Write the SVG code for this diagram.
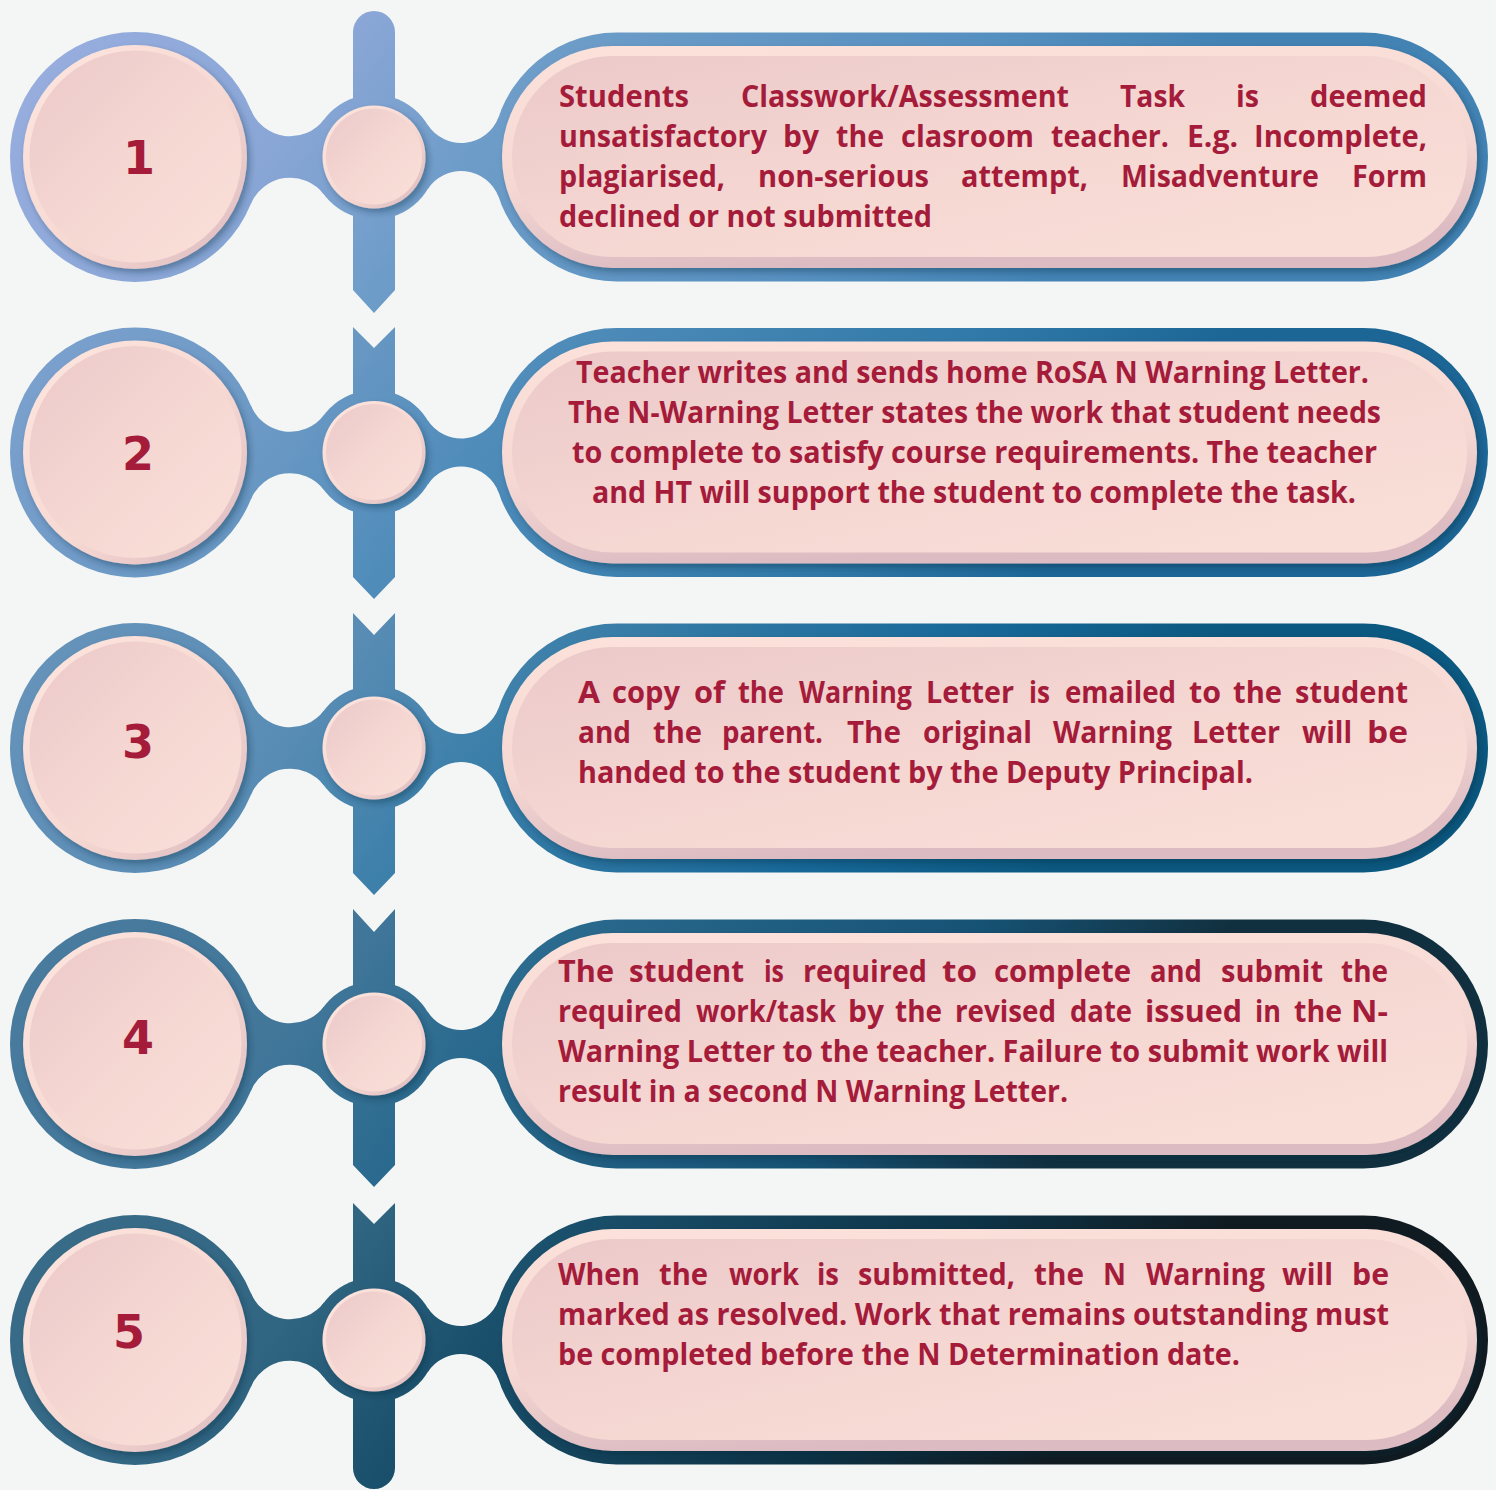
<svg xmlns="http://www.w3.org/2000/svg" width="1496" height="1490" viewBox="0 0 1496 1490">
<defs>
<style>
.t{font-family:"Open Sans","Liberation Sans",sans-serif;font-weight:700;font-size:30px;fill:#a51c3b}
.n{font-family:"DejaVu Sans","Liberation Sans",sans-serif;font-weight:bold;font-size:46px;fill:#a51c3b;text-anchor:middle}
.rim{fill:url(#pinkRim);filter:url(#sh)}
.face{fill:url(#pinkFace)}
.prim{fill:url(#pillRim);filter:url(#sh)}
</style>
<filter id="sh" x="-10%" y="-10%" width="125%" height="130%">
<feDropShadow dx="3" dy="4" stdDeviation="3" flood-color="#08263a" flood-opacity="0.35"/>
</filter>
<linearGradient id="pinkRim" x1="0" y1="0" x2="1" y2="1">
<stop offset="0" stop-color="#fde6df"/><stop offset="0.55" stop-color="#f7d9d3"/><stop offset="1" stop-color="#d9b8be"/>
</linearGradient>
<linearGradient id="pillRim" x1="0" y1="0" x2="0.25" y2="1">
<stop offset="0" stop-color="#fce2db"/><stop offset="0.6" stop-color="#f6d8d3"/><stop offset="1" stop-color="#dcbcc2"/>
</linearGradient>
<linearGradient id="pinkFace" x1="0" y1="0" x2="1" y2="1">
<stop offset="0" stop-color="#ebc9c9"/><stop offset="0.55" stop-color="#f6d8d3"/><stop offset="1" stop-color="#fadfd8"/>
</linearGradient>
<linearGradient id="g1" gradientUnits="userSpaceOnUse" x1="0" y1="-146" x2="800" y2="454">
<stop offset="0" stop-color="#9aafe0"/><stop offset="0.3" stop-color="#89a6d6"/><stop offset="0.47" stop-color="#6d9cc8"/><stop offset="0.8" stop-color="#5690c0"/><stop offset="1" stop-color="#4283b4"/>
</linearGradient>
<linearGradient id="g2" gradientUnits="userSpaceOnUse" x1="0" y1="-146" x2="800" y2="454">
<stop offset="0" stop-color="#7fa2cf"/><stop offset="0.3" stop-color="#6a98c4"/><stop offset="0.47" stop-color="#4f8cba"/><stop offset="0.8" stop-color="#3079a8"/><stop offset="1" stop-color="#1c6696"/>
</linearGradient>
<linearGradient id="g3" gradientUnits="userSpaceOnUse" x1="0" y1="-146" x2="800" y2="454">
<stop offset="0" stop-color="#6894bb"/><stop offset="0.3" stop-color="#5a8db5"/><stop offset="0.47" stop-color="#3d80aa"/><stop offset="0.8" stop-color="#176898"/><stop offset="1" stop-color="#0b5880"/>
</linearGradient>
<linearGradient id="g4" gradientUnits="userSpaceOnUse" x1="0" y1="-146" x2="800" y2="454">
<stop offset="0" stop-color="#4a7c9f"/><stop offset="0.3" stop-color="#42779a"/><stop offset="0.47" stop-color="#2a6a8e"/><stop offset="0.8" stop-color="#165274"/><stop offset="1" stop-color="#11303f"/>
</linearGradient>
<linearGradient id="g5" gradientUnits="userSpaceOnUse" x1="0" y1="-146" x2="800" y2="454">
<stop offset="0" stop-color="#3b6d89"/><stop offset="0.3" stop-color="#316683"/><stop offset="0.47" stop-color="#1a506c"/><stop offset="0.8" stop-color="#0d3346"/><stop offset="1" stop-color="#101b21"/>
</linearGradient>
</defs>
<rect width="1496" height="1490" fill="#f4f6f5"/>

<g id="connectors">
<g transform="translate(0,157)" fill="url(#g1)">
<path d="M353,-125 A21,21 0 0 1 395,-125 L395,133 L374,156 L353,133 Z"/>
<path d="M250.7,-47.4 A42.5,42.5 0 0 0 324,-37.5 L324,37.5 A42.5,42.5 0 0 0 250.7,47.4 Z"/>
<path d="M427.5,-32.5 A40,40 0 0 0 498.7,-40.3 L498.7,40.3 A40,40 0 0 0 427.5,32.5 Z"/>
</g>
<g transform="translate(0,452.5)" fill="url(#g2)">
<path d="M353,-125.5 L374,-104.5 L395,-125.5 L395,124.5 L374,146.5 L353,124.5 Z"/>
<path d="M250.7,-47.4 A42.5,42.5 0 0 0 324,-37.5 L324,37.5 A42.5,42.5 0 0 0 250.7,47.4 Z"/>
<path d="M427.5,-32.5 A40,40 0 0 0 498.7,-40.3 L498.7,40.3 A40,40 0 0 0 427.5,32.5 Z"/>
</g>
<g transform="translate(0,748)" fill="url(#g3)">
<path d="M353,-135 L374,-113 L395,-135 L395,125 L374,147 L353,125 Z"/>
<path d="M250.7,-47.4 A42.5,42.5 0 0 0 324,-37.5 L324,37.5 A42.5,42.5 0 0 0 250.7,47.4 Z"/>
<path d="M427.5,-32.5 A40,40 0 0 0 498.7,-40.3 L498.7,40.3 A40,40 0 0 0 427.5,32.5 Z"/>
</g>
<g transform="translate(0,1044)" fill="url(#g4)">
<path d="M353,-135 L374,-112 L395,-135 L395,121 L374,143 L353,121 Z"/>
<path d="M250.7,-47.4 A42.5,42.5 0 0 0 324,-37.5 L324,37.5 A42.5,42.5 0 0 0 250.7,47.4 Z"/>
<path d="M427.5,-32.5 A40,40 0 0 0 498.7,-40.3 L498.7,40.3 A40,40 0 0 0 427.5,32.5 Z"/>
</g>
<g transform="translate(0,1340)" fill="url(#g5)">
<path d="M353,-137 L374,-116 L395,-137 L395,128 A21,21 0 0 1 353,128 Z"/>
<path d="M250.7,-47.4 A42.5,42.5 0 0 0 324,-37.5 L324,37.5 A42.5,42.5 0 0 0 250.7,47.4 Z"/>
<path d="M427.5,-32.5 A40,40 0 0 0 498.7,-40.3 L498.7,40.3 A40,40 0 0 0 427.5,32.5 Z"/>
</g>
</g>

<!-- Step 1 -->
<g id="step-1-number" transform="translate(0,157)">
<circle cx="135" cy="0" r="125" fill="url(#g1)"/>
<circle class="rim" cx="135" cy="0" r="112"/>
<circle class="face" cx="135.5" cy="-0.5" r="106"/>
<text class="n" x="139" y="17">1</text>
</g>
<g id="step-1-hub" transform="translate(0,157)">
<circle cx="374" cy="0" r="62.5" fill="url(#g1)"/>
<circle class="rim" cx="374" cy="0" r="51.5"/>
<circle class="face" cx="374" cy="-0.5" r="48"/>
</g>
<g id="step-1-box" transform="translate(0,157)">
<rect x="492" y="-124.5" width="996" height="249" rx="124.5" fill="url(#g1)"/>
<rect class="prim" x="502" y="-111" width="975" height="222" rx="111"/>
<rect class="face" x="512" y="-101" width="955" height="201" rx="100.5"/>
<text class="t" x="559" y="-50" textLength="130" lengthAdjust="spacingAndGlyphs">Students</text>
<text class="t" x="741" y="-50" textLength="328" lengthAdjust="spacingAndGlyphs">Classwork/Assessment</text>
<text class="t" x="1120" y="-50" textLength="65" lengthAdjust="spacingAndGlyphs">Task</text>
<text class="t" x="1236" y="-50" textLength="23" lengthAdjust="spacingAndGlyphs">is</text>
<text class="t" x="1310" y="-50" textLength="117" lengthAdjust="spacingAndGlyphs">deemed</text>
<text class="t" x="559" y="-10" textLength="208" lengthAdjust="spacingAndGlyphs">unsatisfactory</text>
<text class="t" x="783" y="-10" textLength="36" lengthAdjust="spacingAndGlyphs">by</text>
<text class="t" x="836" y="-10" textLength="48" lengthAdjust="spacingAndGlyphs">the</text>
<text class="t" x="901" y="-10" textLength="133" lengthAdjust="spacingAndGlyphs">clasroom</text>
<text class="t" x="1051" y="-10" textLength="118" lengthAdjust="spacingAndGlyphs">teacher.</text>
<text class="t" x="1187" y="-10" textLength="51" lengthAdjust="spacingAndGlyphs">E.g.</text>
<text class="t" x="1254" y="-10" textLength="173" lengthAdjust="spacingAndGlyphs">Incomplete,</text>
<text class="t" x="559" y="30" textLength="166" lengthAdjust="spacingAndGlyphs">plagiarised,</text>
<text class="t" x="758" y="30" textLength="171" lengthAdjust="spacingAndGlyphs">non-serious</text>
<text class="t" x="961" y="30" textLength="127" lengthAdjust="spacingAndGlyphs">attempt,</text>
<text class="t" x="1121" y="30" textLength="198" lengthAdjust="spacingAndGlyphs">Misadventure</text>
<text class="t" x="1352" y="30" textLength="75" lengthAdjust="spacingAndGlyphs">Form</text>
<text class="t" x="559" y="70" textLength="373" lengthAdjust="spacingAndGlyphs">declined or not submitted</text>
</g>

<!-- Step 2 -->
<g id="step-2-number" transform="translate(0,452.5)">
<circle cx="135" cy="0" r="125" fill="url(#g2)"/>
<circle class="rim" cx="135" cy="0" r="112"/>
<circle class="face" cx="135.5" cy="-0.5" r="106"/>
<text class="n" x="138" y="17">2</text>
</g>
<g id="step-2-hub" transform="translate(0,452.5)">
<circle cx="374" cy="0" r="62.5" fill="url(#g2)"/>
<circle class="rim" cx="374" cy="0" r="51.5"/>
<circle class="face" cx="374" cy="-0.5" r="48"/>
</g>
<g id="step-2-box" transform="translate(0,452.5)">
<rect x="492" y="-124.5" width="996" height="249" rx="124.5" fill="url(#g2)"/>
<rect class="prim" x="502" y="-111" width="975" height="222" rx="111"/>
<rect class="face" x="512" y="-101" width="955" height="201" rx="100.5"/>
<text class="t" x="576" y="-70" textLength="793" lengthAdjust="spacingAndGlyphs">Teacher writes and sends home RoSA N Warning Letter.</text>
<text class="t" x="568" y="-30" textLength="813" lengthAdjust="spacingAndGlyphs">The N-Warning Letter states the work that student needs</text>
<text class="t" x="572" y="10" textLength="805" lengthAdjust="spacingAndGlyphs">to complete to satisfy course requirements. The teacher</text>
<text class="t" x="592" y="50" textLength="764" lengthAdjust="spacingAndGlyphs">and HT will support the student to complete the task.</text>
</g>

<!-- Step 3 -->
<g id="step-3-number" transform="translate(0,748)">
<circle cx="135" cy="0" r="125" fill="url(#g3)"/>
<circle class="rim" cx="135" cy="0" r="112"/>
<circle class="face" cx="135.5" cy="-0.5" r="106"/>
<text class="n" x="138" y="10">3</text>
</g>
<g id="step-3-hub" transform="translate(0,748)">
<circle cx="374" cy="0" r="62.5" fill="url(#g3)"/>
<circle class="rim" cx="374" cy="0" r="51.5"/>
<circle class="face" cx="374" cy="-0.5" r="48"/>
</g>
<g id="step-3-box" transform="translate(0,748)">
<rect x="492" y="-124.5" width="996" height="249" rx="124.5" fill="url(#g3)"/>
<rect class="prim" x="502" y="-111" width="975" height="222" rx="111"/>
<rect class="face" x="512" y="-101" width="955" height="201" rx="100.5"/>
<text class="t" x="578" y="-45.5" textLength="22" lengthAdjust="spacingAndGlyphs">A</text>
<text class="t" x="612" y="-45.5" textLength="68" lengthAdjust="spacingAndGlyphs">copy</text>
<text class="t" x="694" y="-45.5" textLength="31" lengthAdjust="spacingAndGlyphs">of</text>
<text class="t" x="738" y="-45.5" textLength="46" lengthAdjust="spacingAndGlyphs">the</text>
<text class="t" x="799" y="-45.5" textLength="113" lengthAdjust="spacingAndGlyphs">Warning</text>
<text class="t" x="926" y="-45.5" textLength="88" lengthAdjust="spacingAndGlyphs">Letter</text>
<text class="t" x="1029" y="-45.5" textLength="21" lengthAdjust="spacingAndGlyphs">is</text>
<text class="t" x="1065" y="-45.5" textLength="111" lengthAdjust="spacingAndGlyphs">emailed</text>
<text class="t" x="1189" y="-45.5" textLength="32" lengthAdjust="spacingAndGlyphs">to</text>
<text class="t" x="1233" y="-45.5" textLength="49" lengthAdjust="spacingAndGlyphs">the</text>
<text class="t" x="1295" y="-45.5" textLength="113" lengthAdjust="spacingAndGlyphs">student</text>
<text class="t" x="578" y="-5.5" textLength="53" lengthAdjust="spacingAndGlyphs">and</text>
<text class="t" x="653" y="-5.5" textLength="49" lengthAdjust="spacingAndGlyphs">the</text>
<text class="t" x="722" y="-5.5" textLength="101" lengthAdjust="spacingAndGlyphs">parent.</text>
<text class="t" x="847" y="-5.5" textLength="54" lengthAdjust="spacingAndGlyphs">The</text>
<text class="t" x="923" y="-5.5" textLength="109" lengthAdjust="spacingAndGlyphs">original</text>
<text class="t" x="1053" y="-5.5" textLength="119" lengthAdjust="spacingAndGlyphs">Warning</text>
<text class="t" x="1192" y="-5.5" textLength="88" lengthAdjust="spacingAndGlyphs">Letter</text>
<text class="t" x="1302" y="-5.5" textLength="50" lengthAdjust="spacingAndGlyphs">will</text>
<text class="t" x="1367" y="-5.5" textLength="41" lengthAdjust="spacingAndGlyphs">be</text>
<text class="t" x="578" y="34.5" textLength="675" lengthAdjust="spacingAndGlyphs">handed to the student by the Deputy Principal.</text>
</g>

<!-- Step 4 -->
<g id="step-4-number" transform="translate(0,1044)">
<circle cx="135" cy="0" r="125" fill="url(#g4)"/>
<circle class="rim" cx="135" cy="0" r="112"/>
<circle class="face" cx="135.5" cy="-0.5" r="106"/>
<text class="n" x="138" y="10">4</text>
</g>
<g id="step-4-hub" transform="translate(0,1044)">
<circle cx="374" cy="0" r="62.5" fill="url(#g4)"/>
<circle class="rim" cx="374" cy="0" r="51.5"/>
<circle class="face" cx="374" cy="-0.5" r="48"/>
</g>
<g id="step-4-box" transform="translate(0,1044)">
<rect x="492" y="-124.5" width="996" height="249" rx="124.5" fill="url(#g4)"/>
<rect class="prim" x="502" y="-111" width="975" height="222" rx="111"/>
<rect class="face" x="512" y="-101" width="955" height="201" rx="100.5"/>
<text class="t" x="558" y="-62" textLength="56" lengthAdjust="spacingAndGlyphs">The</text>
<text class="t" x="629" y="-62" textLength="115" lengthAdjust="spacingAndGlyphs">student</text>
<text class="t" x="764" y="-62" textLength="20" lengthAdjust="spacingAndGlyphs">is</text>
<text class="t" x="803" y="-62" textLength="124" lengthAdjust="spacingAndGlyphs">required</text>
<text class="t" x="942" y="-62" textLength="35" lengthAdjust="spacingAndGlyphs">to</text>
<text class="t" x="994" y="-62" textLength="137" lengthAdjust="spacingAndGlyphs">complete</text>
<text class="t" x="1150" y="-62" textLength="52" lengthAdjust="spacingAndGlyphs">and</text>
<text class="t" x="1221" y="-62" textLength="102" lengthAdjust="spacingAndGlyphs">submit</text>
<text class="t" x="1341" y="-62" textLength="47" lengthAdjust="spacingAndGlyphs">the</text>
<text class="t" x="558" y="-22" textLength="124" lengthAdjust="spacingAndGlyphs">required</text>
<text class="t" x="696" y="-22" textLength="140" lengthAdjust="spacingAndGlyphs">work/task</text>
<text class="t" x="848" y="-22" textLength="36" lengthAdjust="spacingAndGlyphs">by</text>
<text class="t" x="895" y="-22" textLength="47" lengthAdjust="spacingAndGlyphs">the</text>
<text class="t" x="955" y="-22" textLength="101" lengthAdjust="spacingAndGlyphs">revised</text>
<text class="t" x="1070" y="-22" textLength="62" lengthAdjust="spacingAndGlyphs">date</text>
<text class="t" x="1145" y="-22" textLength="97" lengthAdjust="spacingAndGlyphs">issued</text>
<text class="t" x="1255" y="-22" textLength="26" lengthAdjust="spacingAndGlyphs">in</text>
<text class="t" x="1294" y="-22" textLength="48" lengthAdjust="spacingAndGlyphs">the</text>
<text class="t" x="1351" y="-22" textLength="37" lengthAdjust="spacingAndGlyphs">N-</text>
<text class="t" x="558" y="18" textLength="830" lengthAdjust="spacingAndGlyphs">Warning Letter to the teacher. Failure to submit work will</text>
<text class="t" x="558" y="58" textLength="510" lengthAdjust="spacingAndGlyphs">result in a second N Warning Letter.</text>
</g>

<!-- Step 5 -->
<g id="step-5-number" transform="translate(0,1340)">
<circle cx="135" cy="0" r="125" fill="url(#g5)"/>
<circle class="rim" cx="135" cy="0" r="112"/>
<circle class="face" cx="135.5" cy="-0.5" r="106"/>
<text class="n" x="129" y="8">5</text>
</g>
<g id="step-5-hub" transform="translate(0,1340)">
<circle cx="374" cy="0" r="62.5" fill="url(#g5)"/>
<circle class="rim" cx="374" cy="0" r="51.5"/>
<circle class="face" cx="374" cy="-0.5" r="48"/>
</g>
<g id="step-5-box" transform="translate(0,1340)">
<rect x="492" y="-124.5" width="996" height="249" rx="124.5" fill="url(#g5)"/>
<rect class="prim" x="502" y="-111" width="975" height="222" rx="111"/>
<rect class="face" x="512" y="-101" width="955" height="201" rx="100.5"/>
<text class="t" x="558" y="-55" textLength="82" lengthAdjust="spacingAndGlyphs">When</text>
<text class="t" x="659" y="-55" textLength="49" lengthAdjust="spacingAndGlyphs">the</text>
<text class="t" x="729" y="-55" textLength="70" lengthAdjust="spacingAndGlyphs">work</text>
<text class="t" x="817" y="-55" textLength="22" lengthAdjust="spacingAndGlyphs">is</text>
<text class="t" x="858" y="-55" textLength="157" lengthAdjust="spacingAndGlyphs">submitted,</text>
<text class="t" x="1034" y="-55" textLength="50" lengthAdjust="spacingAndGlyphs">the</text>
<text class="t" x="1103" y="-55" textLength="23" lengthAdjust="spacingAndGlyphs">N</text>
<text class="t" x="1146" y="-55" textLength="119" lengthAdjust="spacingAndGlyphs">Warning</text>
<text class="t" x="1282" y="-55" textLength="51" lengthAdjust="spacingAndGlyphs">will</text>
<text class="t" x="1352" y="-55" textLength="37" lengthAdjust="spacingAndGlyphs">be</text>
<text class="t" x="558" y="-15" textLength="831" lengthAdjust="spacingAndGlyphs">marked as resolved. Work that remains outstanding must</text>
<text class="t" x="558" y="25" textLength="682" lengthAdjust="spacingAndGlyphs">be completed before the N Determination date.</text>
</g>
</svg>
